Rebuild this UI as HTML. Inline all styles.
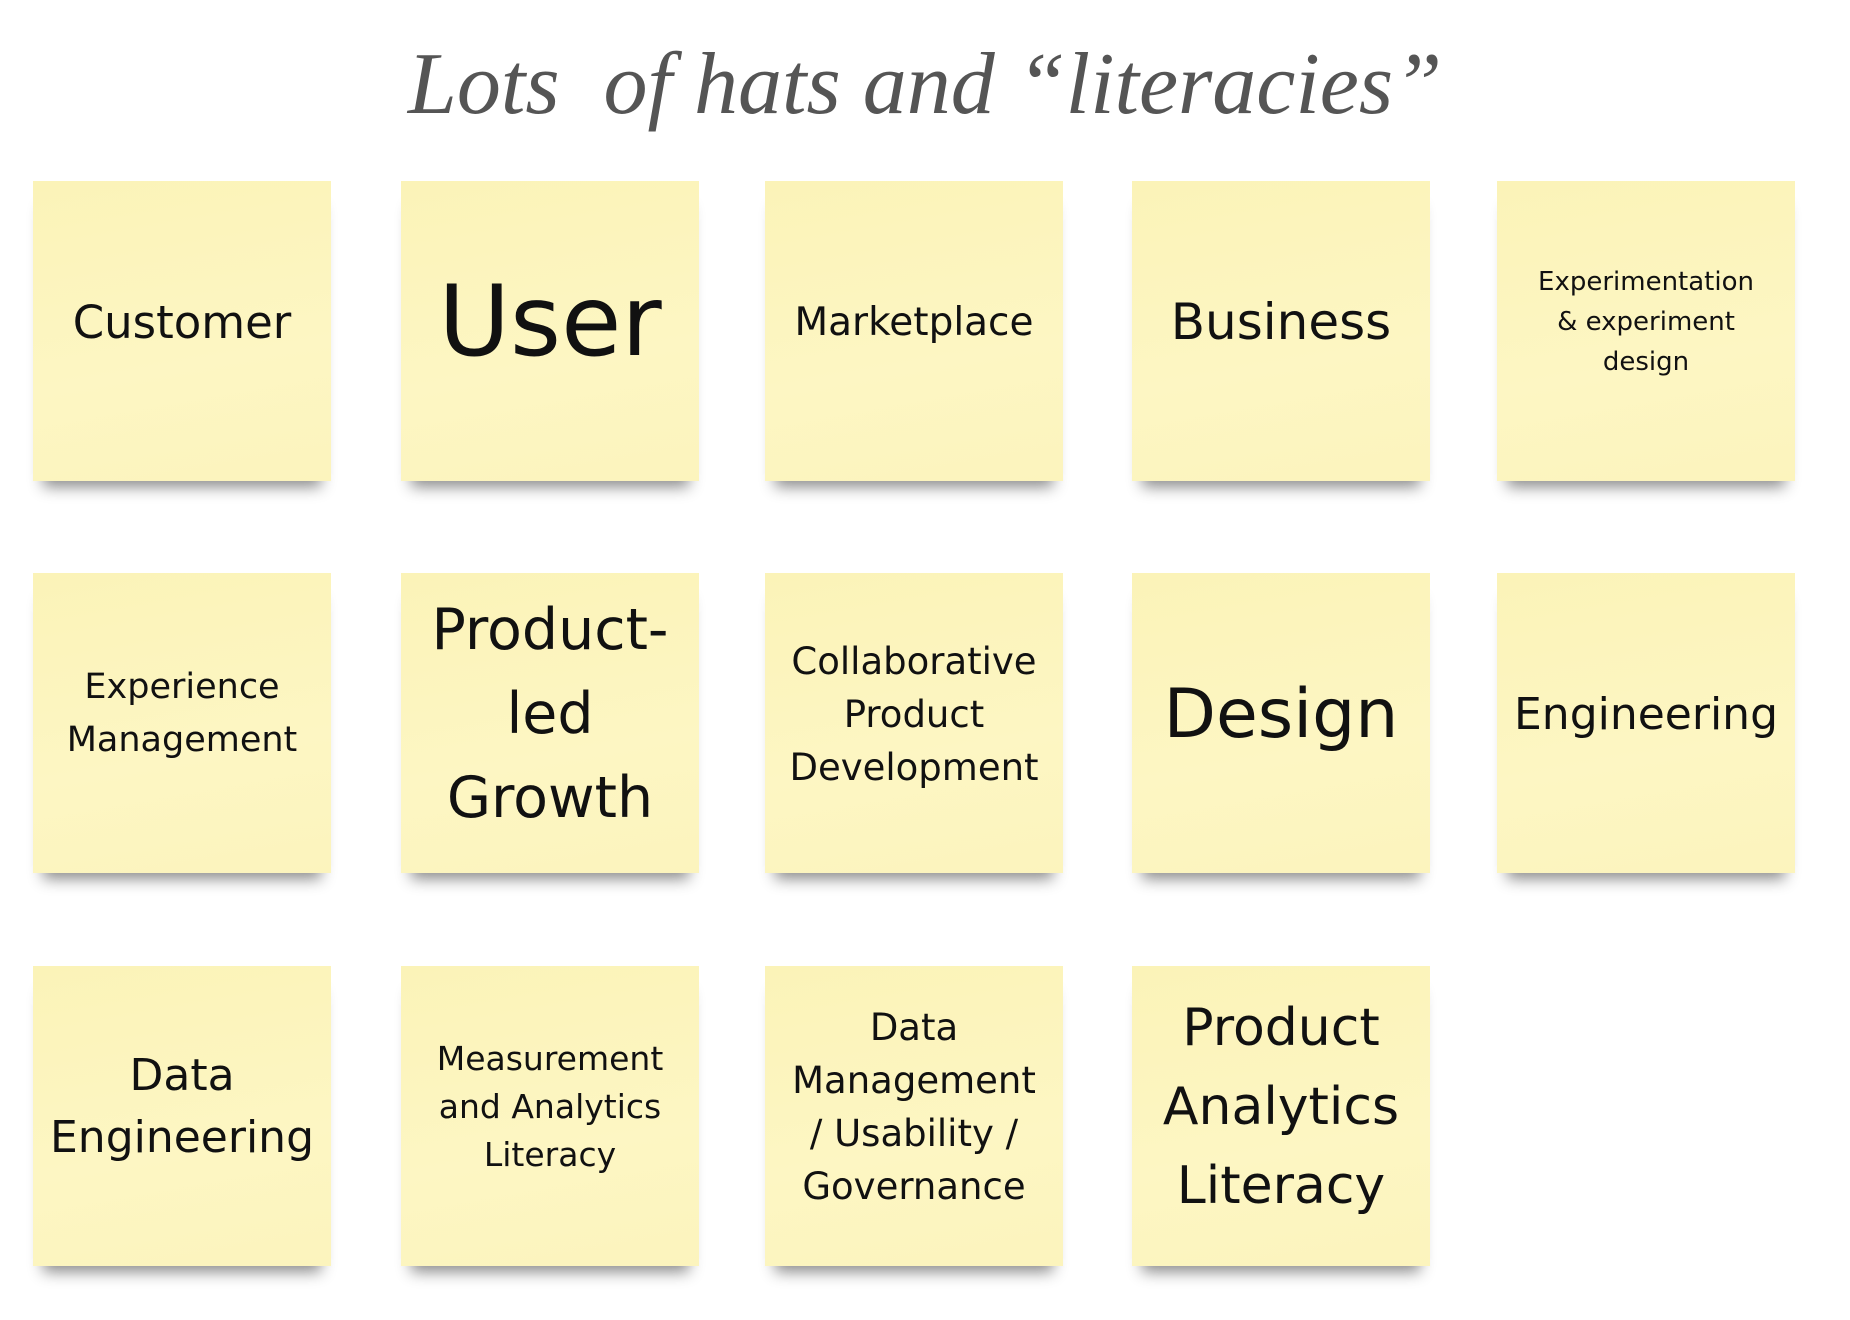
<!DOCTYPE html>
<html><head><meta charset="utf-8"><style>
html,body{margin:0;padding:0;background:#fff;width:1850px;height:1320px;overflow:hidden}
.t{position:absolute;left:0;width:1850px;top:34px;text-align:center;font-family:"Liberation Serif",serif;font-style:italic;font-size:88px;color:#555;letter-spacing:0px}
.s{position:absolute;width:298px;height:300px;background:linear-gradient(170deg,#fbf3b8,#fdf6c3 60%,#fcf4bd);display:flex;align-items:center;justify-content:center;text-align:center;font-family:"DejaVu Sans",sans-serif;color:#111;box-sizing:border-box;padding-bottom:18px;box-shadow:0 16px 14px -10px rgba(0,0,0,.45)}
</style></head><body>
<div class="t">Lots&nbsp; of hats and “literacies”</div>

<div class="s" style="left:33px;top:181px;font-size:45px">Customer</div>
<div class="s" style="left:401px;top:181px;font-size:98px">User</div>
<div class="s" style="left:765px;top:181px;font-size:39px">Marketplace</div>
<div class="s" style="left:1132px;top:181px;font-size:50px">Business</div>
<div class="s" style="left:1497px;top:181px;font-size:26px;line-height:40px">Experimentation<br>&amp; experiment<br>design</div>

<div class="s" style="left:33px;top:573px;font-size:35px;line-height:53px">Experience<br>Management</div>
<div class="s" style="left:401px;top:573px;font-size:57px;line-height:84px">Product-<br>led<br>Growth</div>
<div class="s" style="left:765px;top:573px;font-size:37px;line-height:53px">Collaborative<br>Product<br>Development</div>
<div class="s" style="left:1132px;top:573px;font-size:68px">Design</div>
<div class="s" style="left:1497px;top:573px;font-size:44px">Engineering</div>

<div class="s" style="left:33px;top:966px;font-size:44px;line-height:62px">Data<br>Engineering</div>
<div class="s" style="left:401px;top:966px;font-size:33px;line-height:48px">Measurement<br>and Analytics<br>Literacy</div>
<div class="s" style="left:765px;top:966px;font-size:37px;line-height:53px">Data<br>Management<br>/ Usability /<br>Governance</div>
<div class="s" style="left:1132px;top:966px;font-size:52px;line-height:79px">Product<br>Analytics<br>Literacy</div>
</body></html>
